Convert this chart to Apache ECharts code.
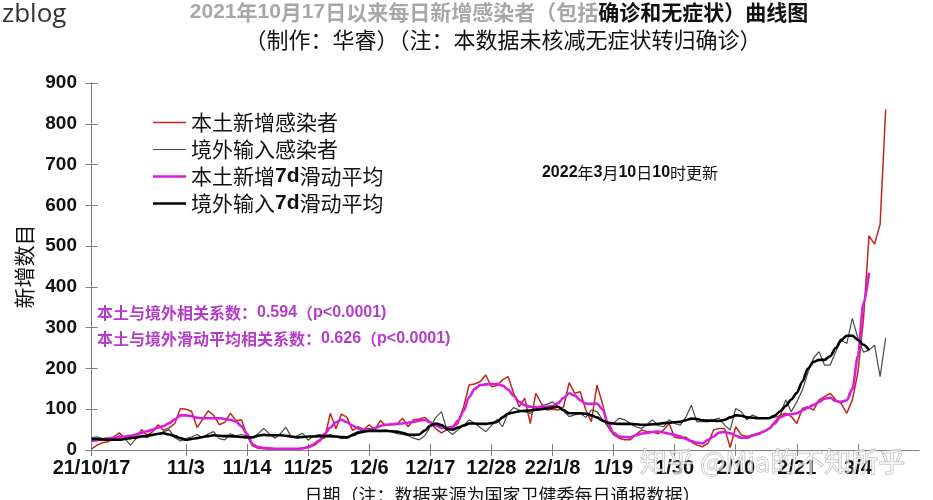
<!DOCTYPE html>
<html><head><meta charset="utf-8">
<script src="https://cdn.jsdelivr.net/npm/echarts@6/dist/echarts.min.js"></script>
<style>html,body{margin:0;padding:0;background:#fff}#c{width:933px;height:500px}</style>
</head><body><div id="c"></div>
<script>
// x ticks: day index counted from 2021/10/17
const tickDays = [0,17,28,39,50,61,72,83,94,105,116,127,138];
const tickLabels = ['21/10/17','11/3','11/14','11/25','12/6','12/17','12/28','22/1/8','1/19','1/30','2/10','2/21','3/4'];
const seriesNames = ['本土新增感染者','境外输入感染者','本土新增7d滑动平均','境外输入7d滑动平均'];

// daily values starting 2021/10/17 (day 0)
const localDaily = [
  3,12,18,20,32,42,28,35,28,50,
  36,45,62,48,55,65,102,100,95,55,
  75,96,85,62,68,90,72,74,35,10,
  4,3,2,3,2,2,3,2,4,8,
  15,25,30,90,52,88,80,48,57,50,
  62,50,72,60,62,63,78,57,74,76,
  80,68,52,42,50,55,65,106,160,162,
  168,184,155,158,172,180,140,106,127,65,
  139,114,98,100,98,106,165,139,143,98,
  69,159,114,57,37,29,25,25,37,49,
  45,45,40,49,65,31,29,32,20,12,
  8,16,49,53,53,6,57,37,33,37,
  41,45,53,69,86,90,82,65,102,106,
  98,123,131,139,123,114,90,123,190,320,
  525,505,554,835
];
const importDaily = [
  30,32,28,30,25,35,28,12,28,35,
  30,38,40,45,50,30,22,28,32,38,
  30,40,45,28,25,40,35,38,35,30,
  40,53,40,29,40,56,31,35,41,24,
  35,38,35,38,32,28,30,40,45,50,
  53,48,45,49,45,40,38,35,29,25,
  35,57,80,94,49,38,50,60,74,65,
  55,45,60,75,57,90,104,98,94,90,
  100,108,112,118,106,95,82,86,90,80,
  98,94,75,57,66,78,74,65,57,53,
  62,74,60,57,74,65,61,80,110,69,
  70,69,74,78,61,49,102,94,74,86,
  80,78,78,80,84,123,94,118,147,190,
  225,241,208,208,241,269,261,323,274,240,
  245,257,180,275
];
const local7d = [
  22,24,26,28,30,31,33,35,38,42,
  46,50,55,59,66,75,85,85,83,79,
  78,78,78,78,76,74,70,58,40,14,
  7,5,4,3,3,3,3,3,4,7,
  12,22,40,55,68,74,68,60,53,50,
  49,53,59,62,63,64,65,67,69,72,
  74,68,60,54,55,57,72,96,130,150,
  159,161,162,162,158,148,133,118,110,106,
  105,106,106,108,115,128,139,134,122,114,
  113,114,100,65,42,33,32,31,36,40,
  42,44,45,43,40,37,33,27,22,18,
  16,25,33,43,44,41,35,30,30,35,
  39,45,52,65,80,86,88,90,97,104,
  110,118,126,128,120,118,122,150,230,360,
  435
];
const import7d = [
  27,27,26,25,25,25,27,29,31,33,
  35,37,40,41,38,34,29,25,27,29,
  32,34,36,35,34,34,33,32,31,31,
  35,37,36,36,36,35,33,31,32,33,
  33,34,34,34,33,32,31,36,42,45,
  47,47,47,47,46,45,42,38,37,38,
  48,60,65,61,52,50,55,60,65,65,
  64,64,66,69,80,89,92,95,96,97,
  99,100,102,104,106,98,90,90,90,89,
  85,80,72,67,65,64,64,64,63,62,
  62,63,64,66,67,68,69,73,77,76,
  73,72,72,71,74,80,85,84,80,79,
  78,78,78,84,95,108,124,140,168,200,
  216,221,221,230,250,270,280,280,270,258,
  245
];

const toPairs = arr => arr.map((v, i) => [i, v]);
const chart = echarts.init(document.getElementById('c'), null, {renderer: 'canvas'});
const axisColor = '#808080';
const cjk = '"Noto Sans CJK SC", sans-serif';
const latin = '"Liberation Sans", Arial, sans-serif';
const colors = ['#c0281e', '#4a4a4a', '#d81ed8', '#000000'];
const widths = [1.5, 1.2, 2.6, 2.6];
// legend icons: a horizontal bar inside a 33x14 box (tiny corner marks fix the bounding box)
const legendIcon = w => {
  const a = (7 - w / 2).toFixed(2), b = (7 + w / 2).toFixed(2);
  return 'path://M0,' + a + 'H33V' + b + 'H0Z M0,0H0.01V0.01H0Z M32.99,13.99H33V14H32.99Z';
};

const xCommon = {
  type: 'value', min: -1, max: 149,
  axisLine: {show: true, lineStyle: {color: axisColor, width: 1}},
  splitLine: {show: false},
  axisTick: {show: true, inside: true, length: 6, customValues: tickDays, lineStyle: {color: axisColor}}
};
const yCommon = {
  type: 'value', min: 0, max: 900, interval: 100,
  axisLine: {show: true, lineStyle: {color: axisColor, width: 1}},
  splitLine: {show: false},
  axisTick: {show: true, inside: true, length: 6, lineStyle: {color: axisColor}}
};

chart.setOption({
  animation: false,
  backgroundColor: '#fff',
  grid: {left: 86, right: 14, top: 83, bottom: 50, containLabel: false, outerBoundsMode: 'none'},
  xAxis: [
    Object.assign({}, xCommon, {
      position: 'bottom',
      name: '日期（注：数据来源为国家卫健委每日通报数据）',
      nameLocation: 'middle', nameGap: 36,
      nameTextStyle: {fontFamily: cjk, fontSize: 18, color: '#111'},
      axisLabel: {
        show: true, customValues: tickDays, margin: 8,
        fontFamily: latin, fontWeight: 'bold', fontSize: 20, color: '#111',
        formatter: v => { const k = tickDays.indexOf(Math.round(v)); return k >= 0 ? tickLabels[k] : ''; }
      }
    }),
    Object.assign({}, xCommon, {position: 'top', axisLabel: {show: false}})
  ],
  yAxis: [
    Object.assign({}, yCommon, {
      position: 'left',
      name: '新增数目', nameLocation: 'middle', nameGap: 41, nameRotate: 90,
      nameTextStyle: {fontFamily: cjk, fontSize: 21, color: '#111'},
      axisLabel: {show: true, margin: 9, fontFamily: latin, fontWeight: 'bold', fontSize: 19, color: '#111'}
    }),
    Object.assign({}, yCommon, {position: 'right', axisLabel: {show: false}})
  ],
  legend: {
    show: true, orient: 'vertical', left: 153, top: 112, padding: 0,
    itemWidth: 33, itemHeight: 14, itemGap: 6,
    data: seriesNames.map((n, i) => ({name: n, icon: legendIcon(widths[i]), itemStyle: {color: colors[i]}})),
    formatter: n => n.replace('7d', '{b|7d}'),
    textStyle: {
      fontFamily: cjk, fontSize: 21, color: '#111', lineHeight: 21,
      rich: {b: {fontFamily: latin, fontWeight: 'bold', fontSize: 21, color: '#111'}}
    }
  },
  series: [
    {name: seriesNames[0], type: 'line', data: toPairs(localDaily), symbol: 'none',
     lineStyle: {color: colors[0], width: widths[0]}, itemStyle: {color: colors[0]}, z: 2},
    {name: seriesNames[1], type: 'line', data: toPairs(importDaily), symbol: 'none',
     lineStyle: {color: colors[1], width: widths[1]}, itemStyle: {color: colors[1]}, z: 3},
    {name: seriesNames[2], type: 'line', data: toPairs(local7d), symbol: 'none', smooth: 0.3, smoothMonotone: 'x',
     lineStyle: {color: colors[2], width: widths[2]}, itemStyle: {color: colors[2]}, z: 4},
    {name: seriesNames[3], type: 'line', data: toPairs(import7d), symbol: 'none', smooth: 0.3, smoothMonotone: 'x',
     lineStyle: {color: colors[3], width: widths[3]}, itemStyle: {color: colors[3]}, z: 5}
  ],
  graphic: [
    {type: 'text', left: 2, top: 2, z: 10, style: {text: 'zblog', fontFamily: '"Open Sans", sans-serif', fontSize: 26, fill: '#333'}},
    {type: 'text', x: 499, y: 12, z: 10, style: {
      text: '{gb|2021}{g|年}{gb|10}{g|月}{gb|17}{g|日以来每日新增感染者（包括}{k|确诊和无症状）曲线图}',
      align: 'center', verticalAlign: 'middle',
      rich: {
        g: {fontFamily: cjk, fontSize: 21, fill: '#a8a8a8', fontWeight: 'bold'},
        gb: {fontFamily: latin, fontSize: 21, fill: '#a8a8a8', fontWeight: 'bold'},
        k: {fontFamily: cjk, fontSize: 21, fill: '#111', fontWeight: 'bold'}
      }}},
    {type: 'text', x: 503, y: 40, z: 10, style: {
      text: '（制作：华睿）（注：本数据未核减无症状转归确诊）',
      align: 'center', verticalAlign: 'middle', fontFamily: cjk, fontSize: 22, fill: '#111'}},
    {type: 'text', x: 630, y: 173, z: 10, style: {
      text: '{b|2022}{c|年}{b|3}{c|月}{b|10}{c|日}{b|10}{c|时更新}',
      align: 'center', verticalAlign: 'middle',
      rich: {b: {fontFamily: latin, fontWeight: 'bold', fontSize: 16, fill: '#111'},
             c: {fontFamily: cjk, fontSize: 16, fill: '#111'}}}},
    {type: 'text', x: 97, y: 313, z: 10, style: {
      text: '{c|本土与境外相关系数：}{b|0.594}{c|（}{b|p<0.0001)}',
      verticalAlign: 'middle',
      rich: {b: {fontFamily: latin, fontWeight: 'bold', fontSize: 16, fill: '#b43cc8'},
             c: {fontFamily: cjk, fontWeight: 'bold', fontSize: 16, fill: '#b43cc8'}}}},
    {type: 'text', x: 97, y: 339, z: 10, style: {
      text: '{c|本土与境外滑动平均相关系数：}{b|0.626}{c|（}{b|p<0.0001)}',
      verticalAlign: 'middle',
      rich: {b: {fontFamily: latin, fontWeight: 'bold', fontSize: 16, fill: '#b43cc8'},
             c: {fontFamily: cjk, fontWeight: 'bold', fontSize: 16, fill: '#b43cc8'}}}},
    {type: 'text', x: 640, y: 462, z: 20, style: {
      text: '知乎 @Mia的不知所乎', verticalAlign: 'middle',
      fontFamily: cjk, fontSize: 27, fill: 'rgba(255,255,255,0.65)', stroke: 'rgba(150,150,150,0.7)', lineWidth: 1}}
  ]
});
</script>
</body></html>
